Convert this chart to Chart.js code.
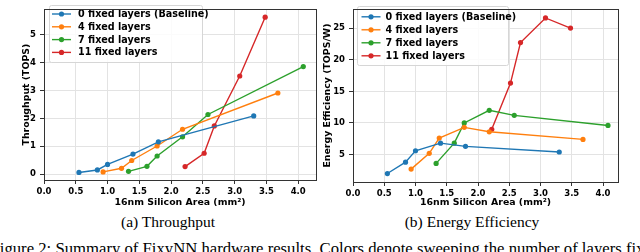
<!DOCTYPE html>
<html>
<head>
<meta charset="utf-8">
<script src="https://cdn.jsdelivr.net/npm/chart.js@4/dist/chart.umd.min.js"></script>
<style>
  body { margin: 0; background: #fff; }
  #page { position: relative; width: 640px; height: 252px; overflow: hidden; background: #fff; }
  canvas { position: absolute; top: 0; }
  #tput { left: 0; }
  #eff { left: 320px; }
  .cap { position: absolute; font-family: "Liberation Serif", serif; font-size: 15.5px; color: #000; white-space: nowrap; transform: translateX(-50%); }
  #capA { left: 168px; top: 213px; }
  #capB { left: 472px; top: 213px; }
  #figcap { position: absolute; left: -9.5px; top: 239px; font-family: "Liberation Serif", serif; font-size: 16.7px; white-space: nowrap; color: #000; }
</style>
</head>
<body>
<div id="page">
  <canvas id="tput" width="320" height="212"></canvas>
  <canvas id="eff" width="320" height="212"></canvas>
  <div class="cap" id="capA">(a) Throughput</div>
  <div class="cap" id="capB">(b) Energy Efficiency</div>
  <div id="figcap">Figure 2: Summary of FixyNN hardware results. Colors denote sweeping the number of layers fixed</div>
</div>
<script>
// series names and colours
var seriesNames = ["0 fixed layers (Baseline)", "4 fixed layers", "7 fixed layers", "11 fixed layers"];
var seriesColors = ["#1f77b4", "#ff7f0e", "#2ca02c", "#d62728"];

// silicon area (mm2) for each design point
var area0 = [0.55, 0.84, 1.0, 1.4, 1.8, 3.3];
var area4 = [0.93, 1.22, 1.38, 1.78, 2.18, 3.68];
var area7 = [1.33, 1.62, 1.78, 2.18, 2.58, 4.08];
var area11 = [2.22, 2.52, 2.68, 3.08, 3.48];

// throughput (TOPS)
var tput0 = [0.06, 0.15, 0.35, 0.72, 1.16, 2.09];
var tput4 = [0.08, 0.21, 0.49, 1.01, 1.61, 2.91];
var tput7 = [0.10, 0.28, 0.65, 1.34, 2.14, 3.86];
var tput11 = [0.27, 0.75, 1.73, 3.52, 5.63];

// energy efficiency (TOPS/W)
var eff0 = [2.0, 3.8, 5.6, 6.8, 6.3, 5.4];
var eff4 = [2.7, 5.2, 7.6, 9.3, 8.6, 7.4];
var eff7 = [3.6, 6.8, 10.0, 12.0, 11.2, 9.6];
var eff11 = [9.0, 16.3, 22.7, 26.6, 25.0];

// tick labels
var xTicks = [0.0, 0.5, 1.0, 1.5, 2.0, 2.5, 3.0, 3.5, 4.0];
var tputTicks = [0, 1, 2, 3, 4, 5];
var effTicks = [5, 10, 15, 20, 25];

var areas = [area0, area4, area7, area11];

Chart.defaults.font.family = "'DejaVu Sans', sans-serif";
Chart.defaults.font.weight = "bold";
Chart.defaults.color = "#000";

function makeDatasets(values) {
    return values.map(function (ys, i) {
        return {
            label: seriesNames[i],
            data: ys.map(function (y, j) { return { x: areas[i][j], y: y }; }),
            borderColor: seriesColors[i],
            backgroundColor: seriesColors[i],
            borderWidth: 1.4,
            pointRadius: 2.6,
            pointBorderWidth: 0,
            showLine: true,
            tension: 0
        };
    });
}

// plot frame (top + right too, like matplotlib)
var frame = {
    id: "frame",
    afterDraw: function (chart) {
        var a = chart.chartArea, ctx = chart.ctx;
        ctx.save();
        ctx.strokeStyle = "#333";
        ctx.lineWidth = 1;
        ctx.strokeRect(Math.round(a.left) + 0.5, Math.round(a.top) + 0.5, Math.round(a.right - a.left), Math.round(a.bottom - a.top));
        ctx.restore();
    }
};

// legend inside the plot, upper left
var boxLegend = {
    id: "boxLegend",
    afterDatasetsDraw: function (chart, args, o) {
        var ctx = chart.ctx;
        ctx.save();
        ctx.fillStyle = "rgba(255,255,255,0.85)";
        ctx.strokeStyle = "#d6d6d6";
        ctx.lineWidth = 1;
        ctx.beginPath();
        ctx.roundRect(o.x + 0.5, o.y + 0.5, o.w, o.h, 2);
        ctx.fill();
        ctx.stroke();
        ctx.font = "bold 9.6px 'DejaVu Sans'";
        ctx.textBaseline = "middle";
        chart.data.datasets.forEach(function (ds, i) {
            var y = o.rowY + i * o.rowGap;
            ctx.strokeStyle = ds.borderColor;
            ctx.lineWidth = 1.4;
            ctx.beginPath();
            ctx.moveTo(o.lineX, y);
            ctx.lineTo(o.lineX + o.lineW, y);
            ctx.stroke();
            ctx.fillStyle = ds.borderColor;
            ctx.beginPath();
            ctx.arc(o.lineX + o.lineW / 2, y, 2.6, 0, Math.PI * 2);
            ctx.fill();
            ctx.fillStyle = "#000";
            ctx.fillText(ds.label, o.textX, y + 0.5);
        });
        ctx.restore();
    }
};

function makeChart(id, values, yTicks, cfg) {
    new Chart(id, {
        type: "scatter",
        data: { datasets: makeDatasets(values) },
        plugins: [frame, boxLegend],
        options: {
            responsive: false,
            animation: false,
            layout: { padding: { top: cfg.top, right: cfg.right, left: 0, bottom: 0 } },
            plugins: {
                legend: { display: false },
                tooltip: { enabled: false },
                boxLegend: cfg.legend
            },
            scales: {
                x: {
                    type: "linear",
                    min: 0,
                    max: cfg.xMax,
                    afterBuildTicks: function (scale) {
                        scale.ticks = xTicks.map(function (v) { return { value: v }; });
                    },
                    afterFit: function (scale) { scale.height = cfg.xHeight; },
                    ticks: {
                        font: { size: 8.5, weight: "bold" },
                        padding: 3,
                        maxRotation: 0,
                        callback: function (v) { return v.toFixed(1); }
                    },
                    grid: { color: "#e3e3e3", tickColor: "#333", tickLength: 4 },
                    border: { color: "#333" },
                    title: {
                        display: true,
                        text: "16nm Silicon Area (mm²)",
                        font: { size: 9.4, weight: "bold" },
                        padding: { top: 0, bottom: 4 }
                    }
                },
                y: {
                    type: "linear",
                    min: cfg.yMin,
                    max: cfg.yMax,
                    afterBuildTicks: function (scale) {
                        scale.ticks = yTicks.map(function (v) { return { value: v }; });
                    },
                    afterFit: function (scale) { scale.width = cfg.yWidth; },
                    ticks: { font: { size: 8.5, weight: "bold" }, padding: 4 },
                    grid: { color: "#e3e3e3", tickColor: "#333", tickLength: 4 },
                    border: { color: "#333" },
                    title: {
                        display: true,
                        text: cfg.yTitle,
                        font: { size: 9.4, weight: "bold" },
                        padding: { top: cfg.yTitlePad, bottom: 0 }
                    }
                }
            }
        }
    });
}

makeChart("tput", [tput0, tput4, tput7, tput11], tputTicks, {
    top: 2, right: 4, xHeight: 32, yWidth: 44, xMax: 4.28, yMin: -0.21, yMax: 5.92,
    yTitle: "Throughput (TOPS)", yTitlePad: 21,
    legend: { x: 49, y: 5, w: 153, h: 57, rowY: 14, rowGap: 12.8, lineX: 52, lineW: 19, textX: 78 }
});

makeChart("eff", [eff0, eff4, eff7, eff11], effTicks, {
    top: 5, right: 22, xHeight: 30, yWidth: 33, xMax: 4.24, yMin: 0.66, yMax: 28.0,
    yTitle: "Energy Efficiency (TOPS/W)", yTitlePad: 2.4,
    legend: { x: 37, y: 6, w: 151, h: 59, rowY: 16.8, rowGap: 13, lineX: 41.5, lineW: 19, textX: 65.5 }
});
</script>
</body>
</html>
